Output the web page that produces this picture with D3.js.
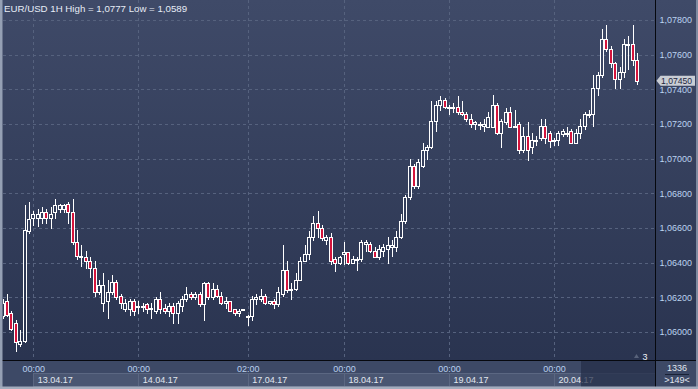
<!DOCTYPE html>
<html>
<head>
<meta charset="utf-8">
<script src="https://d3js.org/d3.v7.min.js"></script>
<style>
  body { margin: 0; background: #2c3652; }
  svg { display: block; font-family: Arial, "Liberation Sans", sans-serif; }
</style>
</head>
<body>
<script>
// chart dimensions
var svgWidth = 698;
var svgHeight = 389;
var plotLeft = 3, plotRight = 655, plotBottom = 360;

// EUR/USD 1H candles
var opens = [1.0609,1.0618,1.0611,1.0605,1.0593,1.0595,1.0658,1.0666,1.0666,1.0666,
  1.0669,1.0666,1.0669,1.0671,1.0671,1.0674,1.0669,1.0652,1.0644,1.0643,
  1.0641,1.0637,1.0623,1.0617,1.0618,1.0623,1.0629,1.0621,1.0613,1.0613,
  1.0618,1.0615,1.0615,1.0616,1.0613,1.0612,1.0619,1.0614,1.0612,1.0615,
  1.0611,1.0615,1.0619,1.0622,1.0620,1.0622,1.0616,1.0628,1.0620,1.0625,
  1.0621,1.0617,1.0618,1.0613,1.0611,1.0613,1.0609,1.0609,1.0619,1.0619,
  1.0621,1.0617,1.0618,1.0616,1.0622,1.0636,1.0624,1.0625,1.0630,1.0641,
  1.0645,1.0655,1.0663,1.0660,1.0653,1.0655,1.0642,1.0640,1.0645,1.0646,
  1.0640,1.0642,1.0642,1.0651,1.0651,1.0647,1.0643,1.0647,1.0648,1.0649,
  1.0649,1.0655,1.0664,1.0678,1.0696,1.0684,1.0696,1.0705,1.0707,1.0722,
  1.0731,1.0734,1.0730,1.0730,1.0730,1.0727,1.0726,1.0723,1.0720,1.0720,
  1.0719,1.0718,1.0718,1.0731,1.0715,1.0721,1.0727,1.0719,1.0720,1.0705,
  1.0713,1.0707,1.0711,1.0712,1.0719,1.0715,1.0710,1.0711,1.0714,1.0714,
  1.0716,1.0709,1.0715,1.0719,1.0726,1.0726,1.0741,1.0748,1.0769,1.0763,
  1.0755,1.0746,1.0750,1.0766,1.0766,1.0757];
var highs = [1.0619,1.0622,1.0612,1.0607,1.0601,1.0673,1.0675,1.0670,1.0671,1.0672,
  1.0671,1.0672,1.0677,1.0674,1.0674,1.0675,1.0677,1.0659,1.0650,1.0647,
  1.0643,1.0641,1.0630,1.0634,1.0630,1.0633,1.0630,1.0622,1.0619,1.0619,
  1.0619,1.0618,1.0617,1.0617,1.0617,1.0620,1.0623,1.0616,1.0617,1.0617,
  1.0618,1.0621,1.0626,1.0623,1.0623,1.0623,1.0629,1.0629,1.0628,1.0627,
  1.0623,1.0620,1.0618,1.0613,1.0613,1.0613,1.0610,1.0621,1.0622,1.0625,
  1.0622,1.0618,1.0619,1.0626,1.0650,1.0641,1.0628,1.0634,1.0643,1.0650,
  1.0658,1.0667,1.0670,1.0662,1.0656,1.0657,1.0643,1.0644,1.0652,1.0646,
  1.0644,1.0643,1.0653,1.0653,1.0652,1.0649,1.0650,1.0651,1.0655,1.0653,
  1.0658,1.0668,1.0679,1.0700,1.0697,1.0700,1.0709,1.0708,1.0733,1.0733,
  1.0736,1.0735,1.0731,1.0732,1.0736,1.0733,1.0727,1.0726,1.0722,1.0721,
  1.0723,1.0727,1.0737,1.0732,1.0723,1.0729,1.0730,1.0728,1.0721,1.0718,
  1.0721,1.0715,1.0713,1.0723,1.0723,1.0716,1.0712,1.0716,1.0717,1.0718,
  1.0717,1.0717,1.0723,1.0727,1.0728,1.0748,1.0750,1.0775,1.0777,1.0765,
  1.0756,1.0753,1.0769,1.0771,1.0777,1.0761];
var lows = [1.0608,1.0609,1.0601,1.0589,1.0592,1.0594,1.0657,1.0662,1.0661,1.0663,
  1.0663,1.0660,1.0666,1.0669,1.0669,1.0663,1.0651,1.0642,1.0638,1.0637,
  1.0632,1.0621,1.0622,1.0612,1.0608,1.0622,1.0619,1.0614,1.0612,1.0610,
  1.0610,1.0611,1.0612,1.0611,1.0608,1.0611,1.0611,1.0611,1.0609,1.0605,
  1.0605,1.0612,1.0618,1.0619,1.0619,1.0615,1.0607,1.0619,1.0619,1.0620,
  1.0616,1.0614,1.0612,1.0610,1.0609,1.0613,1.0604,1.0607,1.0616,1.0618,
  1.0616,1.0616,1.0614,1.0615,1.0621,1.0623,1.0619,1.0624,1.0630,1.0641,
  1.0642,1.0653,1.0655,1.0653,1.0651,1.0639,1.0635,1.0639,1.0639,1.0639,
  1.0640,1.0636,1.0641,1.0647,1.0646,1.0643,1.0642,1.0644,1.0640,1.0644,
  1.0647,1.0654,1.0663,1.0677,1.0683,1.0683,1.0695,1.0700,1.0706,1.0716,
  1.0728,1.0729,1.0726,1.0727,1.0726,1.0725,1.0722,1.0718,1.0717,1.0717,
  1.0716,1.0718,1.0718,1.0714,1.0707,1.0720,1.0718,1.0718,1.0703,1.0704,
  1.0699,1.0703,1.0708,1.0711,1.0709,1.0707,1.0708,1.0708,1.0713,1.0713,
  1.0709,1.0709,1.0712,1.0717,1.0724,1.0719,1.0737,1.0747,1.0762,1.0753,
  1.0741,1.0741,1.0747,1.0752,1.0754,1.0743];
var closes = [1.0617,1.0610,1.0602,1.0594,1.0595,1.0659,1.0665,1.0668,1.0668,1.0669,
  1.0666,1.0668,1.0673,1.0673,1.0673,1.0669,1.0652,1.0644,1.0643,1.0641,
  1.0637,1.0623,1.0627,1.0627,1.0623,1.0629,1.0620,1.0617,1.0617,1.0618,
  1.0612,1.0615,1.0615,1.0613,1.0614,1.0619,1.0613,1.0612,1.0615,1.0611,
  1.0617,1.0619,1.0622,1.0620,1.0622,1.0616,1.0628,1.0620,1.0625,1.0621,
  1.0617,1.0618,1.0612,1.0611,1.0612,1.0613,1.0609,1.0619,1.0620,1.0621,
  1.0617,1.0618,1.0616,1.0623,1.0636,1.0624,1.0625,1.0630,1.0641,1.0645,
  1.0655,1.0663,1.0660,1.0654,1.0655,1.0641,1.0640,1.0643,1.0646,1.0640,
  1.0642,1.0642,1.0652,1.0652,1.0647,1.0643,1.0648,1.0649,1.0650,1.0650,
  1.0655,1.0664,1.0678,1.0696,1.0684,1.0698,1.0705,1.0707,1.0722,1.0731,
  1.0734,1.0730,1.0730,1.0730,1.0727,1.0726,1.0723,1.0720,1.0721,1.0720,
  1.0720,1.0724,1.0731,1.0715,1.0722,1.0727,1.0718,1.0719,1.0705,1.0713,
  1.0705,1.0711,1.0711,1.0719,1.0712,1.0710,1.0711,1.0715,1.0716,1.0715,
  1.0709,1.0715,1.0719,1.0726,1.0726,1.0741,1.0748,1.0769,1.0763,1.0755,
  1.0746,1.0750,1.0766,1.0766,1.0757,1.0745];

var priceTicks = [1.060, 1.062, 1.064, 1.066, 1.068, 1.070, 1.072, 1.074, 1.076, 1.078];
var timeTickIndex = [7, 31, 56, 78, 102, 126];
var timeTickLabels = ["00:00", "00:00", "02:00", "00:00", "00:00", "00:00"];
var dateLabels = ["13.04.17", "14.04.17", "17.04.17", "18.04.17", "19.04.17", "20.04.17"];
var lastPrice = 1.0745;
var titleText = "EUR/USD 1H High = 1,0777 Low = 1,0589";
var barCount = "1336";
var visibleBars = ">149<";
var markerCount = "3";

var candles = opens.map(function(o, i) {
  return {i: i, o: o, h: highs[i], l: lows[i], c: closes[i]};
});

var svg = d3.select("body")
  .append("svg")
  .attr("width", svgWidth)
  .attr("height", svgHeight);

var defs = svg.append("defs");
var grad = defs.append("linearGradient")
  .attr("id", "bg")
  .attr("gradientUnits", "userSpaceOnUse")
  .attr("x1", 0).attr("y1", 0).attr("x2", 0).attr("y2", svgHeight);
grad.append("stop").attr("offset", "0%").attr("stop-color", "#3f4a68");
grad.append("stop").attr("offset", "100%").attr("stop-color", "#28324e");

defs.append("clipPath").attr("id", "plotClip")
  .append("rect")
  .attr("x", plotLeft).attr("y", 0)
  .attr("width", plotRight - plotLeft).attr("height", plotBottom);

svg.append("rect")
  .attr("width", svgWidth)
  .attr("height", svgHeight)
  .attr("fill", "url(#bg)");

// scales
var x = d3.scaleLinear().domain([0, 145]).range([2.7, 637.1]);
var y = d3.scaleLinear().domain([1.060, 1.078]).range([332, 20]);

var fmt = function(d) { return d3.format(".5f")(d).replace(".", ","); };

// gridlines
var grid = svg.append("g").attr("clip-path", "url(#plotClip)")
  .attr("stroke", "#56627e")
  .attr("stroke-dasharray", "3,3")
  .attr("stroke-width", 1);

grid.selectAll(".hgrid")
  .data(priceTicks)
  .enter()
  .append("line")
  .attr("x1", plotLeft)
  .attr("x2", plotRight)
  .attr("y1", d => Math.round(y(d)) + 0.5)
  .attr("y2", d => Math.round(y(d)) + 0.5);

grid.selectAll(".vgrid")
  .data(timeTickIndex)
  .enter()
  .append("line")
  .attr("x1", d => Math.round(x(d)) + 0.5)
  .attr("x2", d => Math.round(x(d)) + 0.5)
  .attr("y1", 0)
  .attr("y2", plotBottom);

// candles
var candleGroup = svg.append("g").attr("clip-path", "url(#plotClip)");

var candleG = candleGroup.selectAll("g")
  .data(candles)
  .enter()
  .append("g");

candleG.append("line")
  .attr("x1", d => Math.round(x(d.i)) + 0.5)
  .attr("x2", d => Math.round(x(d.i)) + 0.5)
  .attr("y1", d => Math.round(y(d.h)))
  .attr("y2", d => Math.round(y(d.l)) + 1)
  .attr("stroke", "#ffffff")
  .attr("stroke-width", 1);

candleG.append("rect")
  .attr("x", d => Math.round(x(d.i)) - 1.5)
  .attr("width", 3)
  .attr("y", d => Math.round(y(Math.max(d.o, d.c))) + 0.5)
  .attr("height", d => Math.max(1, Math.round(y(Math.min(d.o, d.c))) - Math.round(y(Math.max(d.o, d.c)))))
  .attr("fill", d => d.c < d.o ? "#d4143c" : "url(#bg)")
  .attr("stroke", "#ffffff")
  .attr("stroke-width", 1);

// title
svg.append("text")
  .attr("x", 4)
  .attr("y", 11.5)
  .attr("font-size", "9.7px")
  .attr("fill", "#e6ecf6")
  .text(titleText);

// bottom axis band
svg.append("rect")
  .attr("x", 0).attr("y", plotBottom)
  .attr("width", plotRight).attr("height", 27)
  .attr("fill", "#3d4966");

var dateBoxes = svg.append("g");
dateBoxes.selectAll("rect")
  .data(timeTickIndex)
  .enter()
  .append("rect")
  .attr("x", d => Math.round(x(d)) + 0.5)
  .attr("y", 373.5)
  .attr("width", (d, i) => (i < timeTickIndex.length - 1 ? Math.round(x(timeTickIndex[i + 1])) : plotRight) - Math.round(x(d)))
  .attr("height", 13)
  .attr("fill", "#4a5672")
  .attr("stroke", "#5b6782")
  .attr("stroke-width", 1);

dateBoxes.selectAll("text")
  .data(timeTickIndex)
  .enter()
  .append("text")
  .attr("x", d => x(d) + 4.5)
  .attr("y", 383)
  .attr("font-size", "9px")
  .attr("fill", "#e0e6ef")
  .text((d, i) => dateLabels[i]);

var bottomAxis = d3.axisBottom(x)
  .tickValues(timeTickIndex)
  .tickFormat((d, i) => timeTickLabels[i])
  .tickSize(0)
  .tickPadding(4.5);

var xAxis = svg.append("g")
  .attr("transform", `translate(0, ${plotBottom + 1})`)
  .call(bottomAxis);
xAxis.select(".domain").remove();
xAxis.selectAll("text")
  .attr("font-size", "9px")
  .attr("font-family", "Arial, 'Liberation Sans', sans-serif")
  .attr("fill", "#b9d0ee");

// darker box at the right end of the time axis
svg.append("rect")
  .attr("x", 581).attr("y", plotBottom + 1)
  .attr("width", plotRight - 581).attr("height", 26)
  .attr("fill", "#242e48")
  .attr("opacity", 0.72);

// right price axis
var rightAxis = d3.axisRight(y)
  .tickValues(priceTicks)
  .tickFormat(fmt)
  .tickSize(0)
  .tickPadding(3.5);

var yAxis = svg.append("g")
  .attr("transform", `translate(${plotRight + 1}, 0)`)
  .call(rightAxis);
yAxis.select(".domain").remove();
yAxis.selectAll("text")
  .attr("font-size", "9px")
  .attr("font-family", "Arial, 'Liberation Sans', sans-serif")
  .attr("fill", "#bcd3f0");

// last price tag
var tagY = y(lastPrice);
svg.append("path")
  .attr("d", `M656.5,${tagY} L660.5,${tagY - 5} L695,${tagY - 5} L695,${tagY + 5} L660.5,${tagY + 5} Z`)
  .attr("fill", "#c9cdd4");
svg.append("text")
  .attr("x", 661)
  .attr("y", tagY + 3.2)
  .attr("font-size", "8.6px")
  .attr("fill", "#1c2640")
  .text(fmt(lastPrice));

// separators
svg.append("line")
  .attr("x1", plotRight + 0.5).attr("x2", plotRight + 0.5)
  .attr("y1", 0).attr("y2", svgHeight)
  .attr("stroke", "#06080e");
svg.append("line")
  .attr("x1", 0).attr("x2", svgWidth)
  .attr("y1", plotBottom + 0.5).attr("y2", plotBottom + 0.5)
  .attr("stroke", "#06080e");

// corner box
svg.append("rect")
  .attr("x", plotRight + 1).attr("y", plotBottom + 1)
  .attr("width", svgWidth - plotRight - 1).attr("height", 26)
  .attr("fill", "#3d4966");
svg.append("text")
  .attr("x", 677).attr("y", 371)
  .attr("text-anchor", "middle")
  .attr("font-size", "9px")
  .attr("fill", "#e0e6ef")
  .text(barCount);
svg.append("line")
  .attr("x1", 665).attr("x2", 689)
  .attr("y1", 374.5).attr("y2", 374.5)
  .attr("stroke", "#1a2236");
svg.append("text")
  .attr("x", 677).attr("y", 383)
  .attr("text-anchor", "middle")
  .attr("font-size", "9px")
  .attr("fill", "#e0e6ef")
  .text(visibleBars);

// marker count
svg.append("path")
  .attr("d", "M634,358 L636.5,354 L639,358 Z")
  .attr("fill", "#58627a");
svg.append("text")
  .attr("x", 642.5).attr("y", 359.5)
  .attr("font-size", "9px")
  .attr("fill", "#eef2f8")
  .text(markerCount);

// frame
svg.append("rect").attr("x", 0).attr("y", 0).attr("width", 2.5).attr("height", svgHeight).attr("fill", "#95a0b4");
svg.append("rect").attr("x", 696).attr("y", 0).attr("width", 2).attr("height", svgHeight).attr("fill", "#7f8aa0");
svg.append("rect").attr("x", 0).attr("y", 386.5).attr("width", svgWidth).attr("height", 2.5).attr("fill", "#a3acbd");
</script>
</body>
</html>
